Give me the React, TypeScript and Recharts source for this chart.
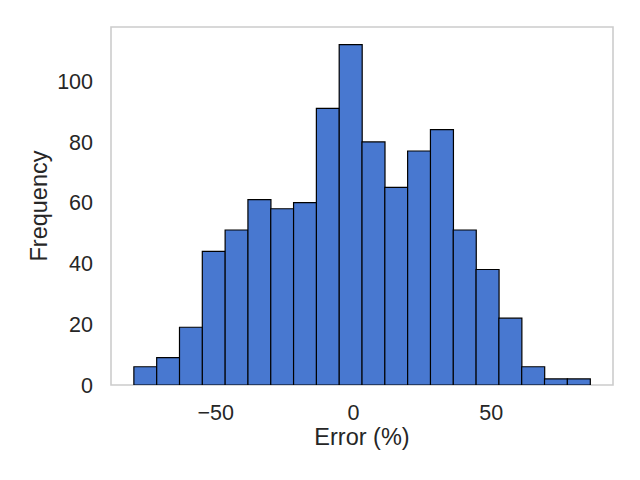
import { Bar, BarChart, ReferenceArea, XAxis, YAxis } from "recharts";

// histogram of prediction error, 20 equal bins
const binCenters = [
  -75.56, -67.28, -59.0, -50.72, -42.44, -34.16, -25.88, -17.6, -9.32, -1.04,
  7.24, 15.52, 23.8, 32.08, 40.36, 48.64, 56.92, 65.2, 73.48, 81.76,
];
const counts = [6, 9, 19, 44, 51, 61, 58, 60, 91, 112, 80, 65, 77, 84, 51, 38, 22, 6, 2, 2];
const xTicks = [-50, 0, 50];
const yTicks = [0, 20, 40, 60, 80, 100];

const X_DOMAIN: [number, number] = [-88, 94.2];
const Y_DOMAIN: [number, number] = [0, 117.8];

const data = binCenters.map((c, i) => ({ center: c, count: counts[i] }));

const FONT = "Liberation Sans, Arial, sans-serif";
const TICK = { fill: "#262626", fontSize: 21.5, fontFamily: FONT };
const LABEL = { fill: "#262626", fontSize: 23.5, fontFamily: FONT };
const FRAME = "#cccccc";

// matplotlib draws a real minus sign
const minus = (v: number) => String(v).replace("-", "\u2212");

export default function App() {
  return (
    <div style={{ position: "fixed", left: 0, top: 0, width: 640, height: 480, background: "#fff" }}>
      <BarChart
        width={640}
        height={480}
        data={data}
        barCategoryGap={0}
        margin={{ top: 27, right: 27, bottom: 55, left: 28 }}
      >
        <XAxis
          type="number"
          dataKey="center"
          domain={X_DOMAIN}
          ticks={xTicks}
          tickFormatter={minus}
          allowDataOverflow
          tick={TICK}
          tickLine={false}
          tickSize={0}
          tickMargin={20}
          axisLine={false}
          height={40}
          label={{ value: "Error (%)", position: "bottom", offset: 3, ...LABEL }}
        />
        <YAxis
          domain={Y_DOMAIN}
          ticks={yTicks}
          allowDataOverflow
          tick={TICK}
          tickLine={false}
          tickSize={0}
          tickMargin={18}
          axisLine={false}
          width={83}
          label={{
            value: "Frequency",
            angle: -90,
            position: "insideLeft",
            offset: 11,
            ...LABEL,
            style: { textAnchor: "middle" },
          }}
        />
        <Bar
          dataKey="count"
          fill="#4878d0"
          stroke="#000"
          strokeWidth={1.2}
          isAnimationActive={false}
        />
        <ReferenceArea
          x1={X_DOMAIN[0]}
          x2={X_DOMAIN[1]}
          y1={Y_DOMAIN[0]}
          y2={Y_DOMAIN[1]}
          fill="none"
          stroke={FRAME}
          strokeWidth={1.6}
          ifOverflow="visible"
        />
      </BarChart>
    </div>
  );
}
